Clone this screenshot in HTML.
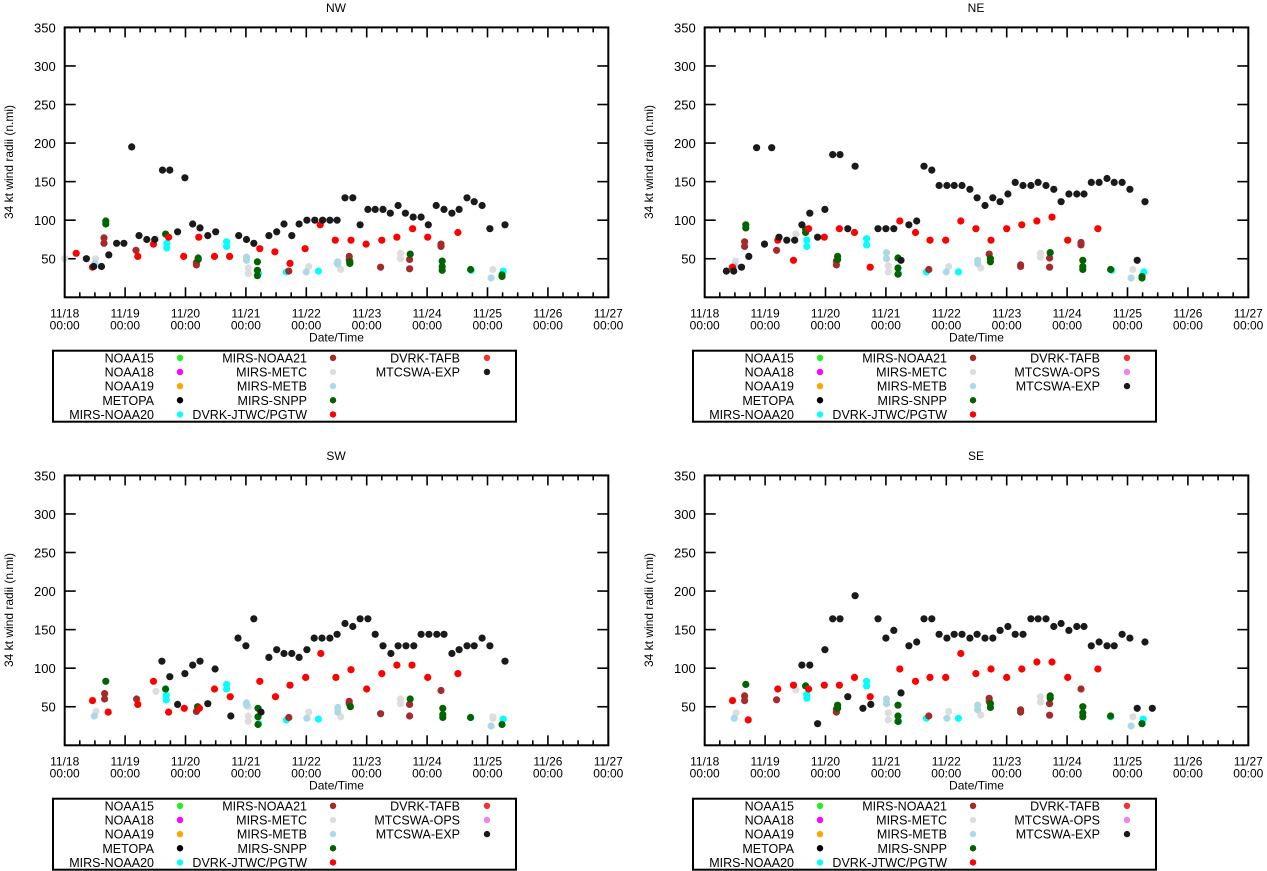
<!DOCTYPE html>
<html><head><meta charset="utf-8"><style>
html,body{margin:0;padding:0;background:#fff;}
svg{display:block;font-family:"Liberation Sans",Arial,sans-serif;}
</style></head><body>
<svg id="chart" width="1267" height="871" viewBox="0 0 1267 871" xmlns="http://www.w3.org/2000/svg"></svg>
<script>
// ---- data: [days since 11/18 00:00, radius n.mi] ----
const NW_EXP=[[0.36,50],[0.48,40],[0.61,40],[0.73,55],[0.86,70],[0.98,70],[1.11,195],[1.23,80],[1.36,75],[1.49,75],[1.62,165],[1.74,165],[1.87,85],[1.99,155],[2.12,95],[2.24,90],[2.37,80],[2.5,85],[2.88,80],[3.01,75],[3.13,70],[3.38,80],[3.51,85],[3.63,95],[3.76,80],[3.88,95],[4.01,100],[4.14,100],[4.27,100],[4.39,100],[4.51,100],[4.64,129],[4.77,129],[4.89,94],[5.02,114],[5.14,114],[5.27,114],[5.39,109],[5.52,119],[5.64,109],[5.77,104],[5.9,104],[6.02,94],[6.15,119],[6.28,114],[6.41,109],[6.53,114],[6.66,129],[6.78,124],[6.91,119],[7.04,89],[7.29,94]];
const NW_JTWC=[[0.19,57],[0.46,39],[1.21,53],[1.47,69],[1.72,78],[1.97,53],[2.22,78],[2.48,53],[2.73,53],[3.23,63],[3.48,59],[3.73,44],[3.98,63],[4.23,94],[4.48,74],[4.74,74],[4.99,69],[5.25,74],[5.5,78],[5.76,89],[6.01,78],[6.51,84]];
const NW_N21=[[0.65,77],[0.65,70],[1.18,61],[2.18,45],[2.18,42],[3.71,34],[4.71,53],[4.71,49],[5.23,39],[5.71,49],[5.71,37],[6.23,69],[6.23,66]];
const NW_SNPP=[[0.68,99],[0.68,95],[1.67,82],[2.21,51],[2.21,49],[3.19,46],[3.19,35],[3.19,28],[4.72,46],[4.72,44],[5.72,56],[6.25,47],[6.25,40],[6.25,35],[6.72,36],[7.24,27],[7.24,29]];
const NW_N20=[[1.69,70],[1.69,64],[2.68,72],[2.68,66],[3.21,31],[3.67,33],[4.2,34],[6.73,35],[7.26,34]];
const NW_METB=[[0.5,44],[3.01,52],[3.01,48],[4.0,33],[4.51,44],[4.52,46],[4.52,43],[7.06,25]];
const NW_METC=[[0.0,50],[0.51,50],[1.51,76],[3.04,38],[3.04,31],[4.04,40],[4.57,36],[5.56,57],[5.56,50],[7.09,36]];

const NE_EXP=[[0.36,34],[0.48,34],[0.61,39],[0.73,53],[0.86,194],[0.99,69],[1.11,194],[1.23,78],[1.36,74],[1.49,74],[1.61,94],[1.74,109],[1.87,78],[1.99,114],[2.12,185],[2.24,185],[2.37,89],[2.49,170],[2.87,89],[3.0,89],[3.13,89],[3.25,48],[3.38,94],[3.51,99],[3.63,170],[3.76,165],[3.88,145],[4.01,145],[4.13,145],[4.26,145],[4.39,140],[4.51,129],[4.64,119],[4.77,129],[4.89,124],[5.02,134],[5.14,149],[5.27,145],[5.4,145],[5.52,149],[5.65,145],[5.78,140],[5.9,124],[6.03,134],[6.16,134],[6.28,134],[6.4,149],[6.53,149],[6.66,154],[6.78,149],[6.91,149],[7.04,140],[7.16,48],[7.29,124]];
const NE_JTWC=[[0.46,39],[1.21,74],[1.47,48],[1.72,89],[1.98,78],[2.23,89],[2.48,84],[2.74,39],[3.23,99],[3.49,84],[3.73,74],[3.99,74],[4.24,99],[4.49,89],[4.74,74],[5.0,89],[5.25,94],[5.5,99],[5.75,104],[6.01,74],[6.51,89]];
const NE_N21=[[0.66,72],[0.66,66],[1.19,61],[2.18,47],[2.18,42],[3.71,36],[4.71,56],[5.23,42],[5.23,40],[5.71,51],[5.71,39],[6.23,71],[6.23,68]];
const NE_SNPP=[[0.68,94],[0.68,90],[1.67,88],[1.67,84],[2.2,53],[2.2,49],[3.2,51],[3.2,38],[3.2,30],[4.73,50],[4.73,46],[5.72,58],[6.26,48],[6.26,40],[6.26,36],[6.72,36],[7.24,27],[7.24,25]];
const NE_N20=[[1.69,74],[1.69,66],[2.68,76],[2.68,68],[3.21,31],[3.67,33],[4.2,33],[6.74,35],[7.27,33]];
const NE_METB=[[0.5,41],[3.01,58],[3.01,50],[4.0,33],[4.52,48],[4.52,44],[7.06,25]];
const NE_METC=[[0.51,47],[1.51,82],[3.04,41],[3.04,33],[4.04,40],[4.57,38],[5.56,57],[5.56,52],[7.09,36]];

const SW_EXP=[[1.61,109],[1.74,89],[1.87,53],[1.99,93],[2.12,104],[2.24,109],[2.37,54],[2.49,99],[2.75,38],[2.87,139],[3.0,129],[3.13,164],[3.25,43],[3.38,114],[3.51,124],[3.63,119],[3.76,119],[3.88,114],[4.01,124],[4.13,139],[4.26,139],[4.39,139],[4.51,144],[4.64,158],[4.77,154],[4.89,164],[5.02,164],[5.14,144],[5.27,129],[5.4,119],[5.52,129],[5.65,129],[5.78,129],[5.9,144],[6.03,144],[6.16,144],[6.28,144],[6.41,119],[6.53,124],[6.66,129],[6.78,129],[6.91,139],[7.04,129],[7.29,109]];
const SW_JTWC=[[0.46,58],[0.72,43],[1.21,53],[1.47,83],[1.72,43],[1.98,48],[2.23,48],[2.48,73],[2.74,63],[3.23,83],[3.49,63],[3.73,78],[3.99,88],[4.24,119],[4.49,88],[4.74,98],[5.0,73],[5.25,93],[5.5,104],[5.75,104],[6.01,88],[6.51,93]];
const SW_N21=[[0.66,67],[0.66,60],[1.19,60],[2.18,44],[3.71,36],[4.71,57],[4.71,54],[5.23,41],[5.71,53],[5.71,38],[6.23,71]];
const SW_SNPP=[[0.68,83],[1.67,73],[2.2,50],[3.2,48],[3.2,37],[3.2,27],[4.73,50],[5.72,60],[6.26,48],[6.26,40],[6.26,36],[6.72,36],[7.24,27]];
const SW_N20=[[1.68,65],[1.68,59],[2.68,79],[2.68,73],[3.21,28],[3.67,33],[4.2,34],[6.72,36],[7.26,34]];
const SW_METB=[[0.49,38],[3.01,55],[3.01,52],[4.01,35],[4.52,49],[4.52,43],[7.06,25]];
const SW_METC=[[0.52,44],[1.51,70],[3.04,50],[3.04,38],[3.04,31],[4.04,43],[4.57,37],[5.56,60],[5.56,54],[7.09,37],[7.09,35]];

const SE_EXP=[[1.61,104],[1.74,104],[1.87,28],[1.99,124],[2.12,164],[2.24,164],[2.37,63],[2.49,194],[2.62,48],[2.75,53],[2.87,164],[3.0,139],[3.13,149],[3.25,68],[3.38,129],[3.51,134],[3.63,164],[3.76,164],[3.88,144],[4.01,139],[4.13,144],[4.26,144],[4.39,139],[4.51,144],[4.64,139],[4.77,139],[4.89,149],[5.02,154],[5.14,144],[5.27,144],[5.4,164],[5.52,164],[5.65,164],[5.78,154],[5.9,158],[6.03,149],[6.16,154],[6.28,154],[6.4,129],[6.53,134],[6.66,129],[6.78,129],[6.91,144],[7.04,139],[7.16,48],[7.29,134],[7.41,48]];
const SE_JTWC=[[0.46,58],[0.72,33],[1.21,73],[1.47,78],[1.72,73],[1.98,78],[2.23,78],[2.48,88],[2.74,63],[3.23,99],[3.49,83],[3.73,88],[3.99,88],[4.24,119],[4.49,93],[4.74,99],[5.0,88],[5.25,99],[5.5,108],[5.75,108],[6.01,88],[6.51,99]];
const SE_N21=[[0.66,64],[0.66,58],[1.19,59],[2.18,47],[2.18,43],[3.71,38],[4.71,61],[4.71,57],[5.23,46],[5.23,43],[5.71,54],[5.71,39],[6.23,73]];
const SE_SNPP=[[0.68,79],[1.67,77],[2.2,52],[2.2,48],[3.2,52],[3.2,38],[3.2,31],[4.73,54],[4.73,49],[5.72,64],[5.72,61],[6.26,50],[6.26,42],[6.26,37],[6.72,38],[7.24,28]];
const SE_N20=[[1.69,66],[1.69,61],[2.68,83],[2.68,77],[3.21,31],[3.67,35],[4.2,35],[6.72,37],[7.26,34]];
const SE_METB=[[0.49,35],[3.01,60],[3.01,54],[4.01,35],[4.52,52],[4.52,46],[7.06,25]];
const SE_METC=[[0.52,42],[1.51,72],[3.04,42],[3.04,33],[4.04,44],[4.57,39],[5.56,63],[5.56,56],[7.09,37]];

const X_TICK_DAYS=["11/18","11/19","11/20","11/21","11/22","11/23","11/24","11/25","11/26","11/27"];
const Y_TICKS=[50,100,150,200,250,300,350];
const PANEL_TITLES=["NW","NE","SW","SE"];

const NS="http://www.w3.org/2000/svg";
const svg=document.getElementById("chart");
function mk(tag,attrs,parent){const e=document.createElementNS(NS,tag);for(const k in attrs)e.setAttribute(k,attrs[k]);(parent||svg).appendChild(e);return e;}

const COL={n15:"#22ee22",n18:"#ff00ff",n19:"#ffa500",metopa:"#000000",n20:"#00ffff",n21:"#a52a2a",metc:"#dddddd",metb:"#add8e6",snpp:"#006400",jtwc:"#ff0000",tafb:"#ee3333",ops:"#ee82ee",exp:"#1a1a1a"};

const panels=[
 {title:"NW",ox:0,oy:0,ops:false,s:{n20:NW_N20,n21:NW_N21,metc:NW_METC,metb:NW_METB,snpp:NW_SNPP,jtwc:NW_JTWC,exp:NW_EXP}},
 {title:"NE",ox:640,oy:0,ops:true,s:{n20:NE_N20,n21:NE_N21,metc:NE_METC,metb:NE_METB,snpp:NE_SNPP,jtwc:NE_JTWC,exp:NE_EXP}},
 {title:"SW",ox:0,oy:448,ops:true,s:{n20:SW_N20,n21:SW_N21,metc:SW_METC,metb:SW_METB,snpp:SW_SNPP,jtwc:SW_JTWC,exp:SW_EXP}},
 {title:"SE",ox:640,oy:448,ops:true,s:{n20:SE_N20,n21:SE_N21,metc:SE_METC,metb:SE_METB,snpp:SE_SNPP,jtwc:SE_JTWC,exp:SE_EXP}}
];

panels.forEach(function(p){
  const x0=64.7+p.ox, x1=608.3+p.ox, y0=27.4+p.oy, y1=297.3+p.oy;
  const xs=function(d){return x0+(x1-x0)*d/9;};
  const ys=function(v){return y1-(y1-y0)*v/350;};
  const g=mk("g",{});
  
  
  const t=mk("text",{x:336+p.ox,y:12+p.oy,"font-size":"12","text-anchor":"middle"},g);
  t.textContent=p.title;
  
  
  const yl=mk("text",{x:0,y:0,"font-size":"12","text-anchor":"middle",transform:"translate("+(13+p.ox)+","+(162+p.oy)+") rotate(-90)"},g);
  yl.textContent="34 kt wind radii (n.mi)";
  
  
  // y ticks
  Y_TICKS.forEach(function(v){
    const y=ys(v);
    mk("line",{x1:x0,y1:y,x2:x0+11,y2:y,stroke:"#000","stroke-width":"1.6"},g);
    mk("line",{x1:x1-11,y1:y,x2:x1,y2:y,stroke:"#000","stroke-width":"1.6"},g);
    const tl=mk("text",{x:x0-9,y:y+5,"font-size":"13","text-anchor":"end"},g);
    tl.textContent=String(v);
    
    
  });
  // x ticks
  for(let q=0;q<=36;q++){
    const d=q/4, x=xs(d), L=(q%4===0)?10:5;
    mk("line",{x1:x,y1:y1,x2:x,y2:y1-L,stroke:"#000","stroke-width":"1.6"},g);
    mk("line",{x1:x,y1:y0,x2:x,y2:y0+L,stroke:"#000","stroke-width":"1.6"},g);
  }
  X_TICK_DAYS.forEach(function(lab,i){
    const x=xs(i);
    const a=mk("text",{x:x,y:y1+20,"font-size":"12","text-anchor":"middle"},g);
    a.textContent=lab;
    
    
    const b=mk("text",{x:x,y:y1+32,"font-size":"12","text-anchor":"middle"},g);
    b.textContent="00:00";
    
    
  });
  const xt=mk("text",{x:(x0+x1)/2,y:y1+44,"font-size":"12","text-anchor":"middle"},g);
  xt.textContent="Date/Time";
  
  
  // points in gnuplot order
  ["n20","n21","metc","metb","snpp","jtwc","exp"].forEach(function(k){
    p.s[k].forEach(function(pt){
      const c=mk("circle",{cx:xs(pt[0]).toFixed(1),cy:ys(pt[1]).toFixed(1),r:"3.6",fill:COL[k]},g);
      
      
    });
  });
  // frame
  const fr=mk("rect",{x:x0,y:y0,width:x1-x0,height:y1-y0,fill:"none",stroke:"#000","stroke-width":"2"},g);
  
  
  // legend
  const lg=mk("g",{},g);
  
  
  mk("rect",{x:53+p.ox,y:350.7+p.oy,width:463,height:71,fill:"none",stroke:"#000","stroke-width":"2"},lg);
  const col3=p.ops?[["DVRK-TAFB","tafb"],["MTCSWA-OPS","ops"],["MTCSWA-EXP","exp"]]:[["DVRK-TAFB","tafb"],["MTCSWA-EXP","exp"]];
  const cols=[
    [["NOAA15","n15"],["NOAA18","n18"],["NOAA19","n19"],["METOPA","metopa"],["MIRS-NOAA20","n20"]],
    [["MIRS-NOAA21","n21"],["MIRS-METC","metc"],["MIRS-METB","metb"],["MIRS-SNPP","snpp"],["DVRK-JTWC/PGTW","jtwc"]],
    col3];
  const tx=[154,307,460], dx=[180,333,487];
  cols.forEach(function(col,ci){
    col.forEach(function(it,ri){
      const cy=357.8+ri*14.15+p.oy;
      const lt=mk("text",{x:tx[ci]+p.ox,y:cy+4.5,"font-size":"12.5","text-anchor":"end"},lg);
      lt.textContent=it[0];
      
      
      mk("circle",{cx:dx[ci]+p.ox,cy:cy,r:"3.2",fill:COL[it[1]]},lg);
    });
  });
});
</script>
</body></html>
